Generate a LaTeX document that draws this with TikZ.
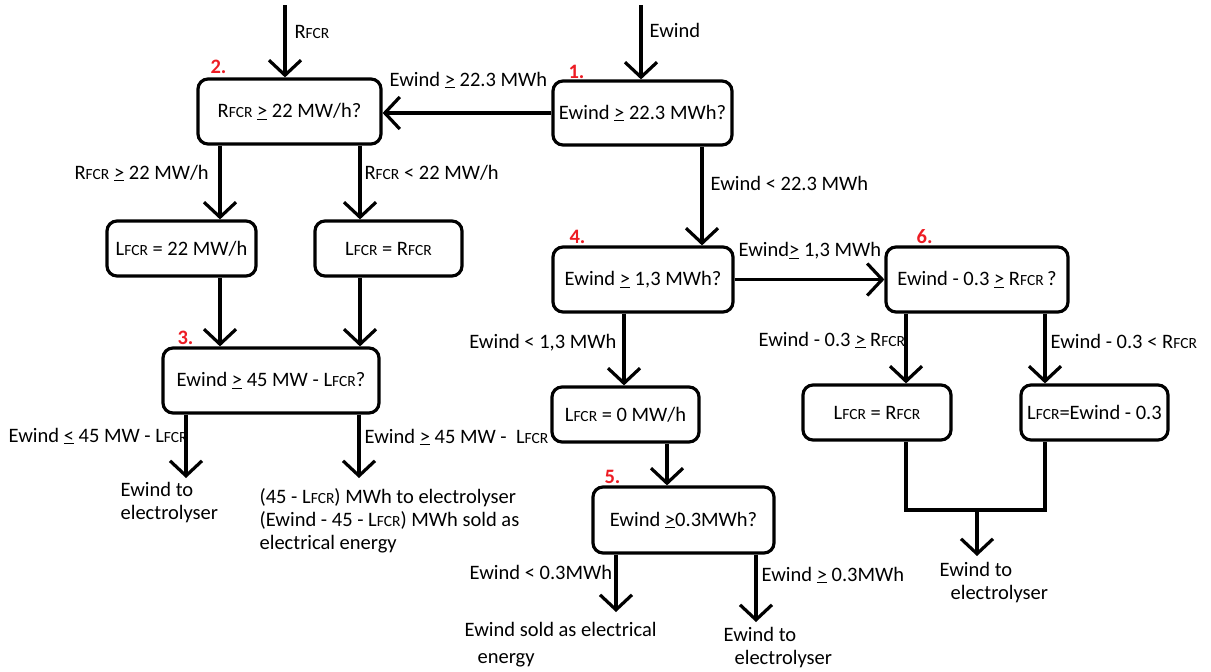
\documentclass[tikz,border=0pt]{standalone}
\usepackage{fontspec}
\setmainfont{Carlito}
\usetikzlibrary{arrows.meta}
\definecolor{numred}{RGB}{237,28,36}
\newcommand\sfcr{{\fontsize{15.5}{15.5}\selectfont FCR}}
\newcommand\RF{R\sfcr}
\newcommand\LF{L\sfcr}
\newcommand\gequ{\underline{>}}
\newcommand\lequ{\underline{<}}
\begin{document}
\begin{tikzpicture}[x=1pt,y=-1pt,line width=3.2pt,
  box/.style={draw,rounded corners=10pt,align=center,inner sep=0pt,font=\fontsize{20.5}{24}\selectfont},
  lbl/.style={anchor=west,inner sep=0pt,font=\fontsize{20.5}{24}\selectfont},
  endtxt/.style={anchor=west,inner sep=0pt,align=left,font=\fontsize{20.5}{23}\selectfont},
  num/.style={anchor=west,inner sep=0pt,text=numred,font=\bfseries\fontsize{20.5}{24}\selectfont},
  arr/.style={-{Straight Barb[length=15pt,width=32pt]}}]
\useasboundingbox (0,0) rectangle (1211,672);

% boxes
\node[box,minimum width=183pt,minimum height=65pt] (b2) at (289.5,111.5) {\RF{} \gequ{} 22 MW/h?};
\node[box,minimum width=179pt,minimum height=64pt] (b1) at (642.5,113) {Ewind \gequ{} 22.3 MWh?};
\node[box,minimum width=149pt,minimum height=55pt] (b2a) at (181.5,248.5) {\LF{} = 22 MW/h};
\node[box,minimum width=147pt,minimum height=55pt] (b2b) at (388.5,248.5) {\LF{} = \RF};
\node[box,minimum width=216pt,minimum height=65pt] (b3) at (271,380.5) {Ewind \gequ{} 45 MW - \LF?};
\node[box,minimum width=180pt,minimum height=65pt] (b4) at (643,279.5) {Ewind \gequ{} 1,3 MWh?};
\node[box,minimum width=182pt,minimum height=65pt] (b6) at (977,279.5) {Ewind - 0.3 \gequ{} \RF\,?};
\node[box,minimum width=147pt,minimum height=55pt] (b4a) at (625.5,414.5) {\LF{} = 0 MW/h};
\node[box,minimum width=181pt,minimum height=66pt] (b5) at (683.5,520) {Ewind \gequ 0.3MWh?};
\node[box,minimum width=148pt,minimum height=55pt] (b6a) at (877,412.5) {\LF{} = \RF};
\node[box,minimum width=147pt,minimum height=55pt] (b6b) at (1094.5,412.5) {\LF{}=Ewind - 0.3};

% step numbers
\node[num] (n1) at (567,72) {1.};
\node[num] (n2) at (209,67) {2.};
\node[num] (n3) at (176,338) {3.};
\node[num] (n4) at (568,237) {4.};
\node[num] (n5) at (603,477) {5.};
\node[num] (n6) at (915,237) {6.};

% helper coordinates
\coordinate (t2) at (285,5);
\coordinate (t1) at (641,5);
\coordinate (xa) at (220,0);
\coordinate (xb) at (360,0);
\coordinate (x702) at (702,0);
\coordinate (x624) at (624,0);
\coordinate (x667) at (667,0);
\coordinate (x906) at (906,0);
\coordinate (x1045) at (1045,0);
\coordinate (e3a) at (186,478);
\coordinate (e3b) at (359,478);
\coordinate (e5a) at (616,612);
\coordinate (e5b) at (756,622);
\coordinate (m) at (977,510);
\coordinate (e6) at (977,556);

% connectors
\draw[arr] (t2) -- (t2 |- b2.north);
\draw[arr] (t1) -- (t1 |- b1.north);
\draw[arr] (b1.west) -- (b1.west -| b2.east);
\draw[arr] (b2.south -| xa) -- (b2a.north -| xa);
\draw[arr] (b2.south -| xb) -- (b2b.north -| xb);
\draw[arr] (b2a.south -| xa) -- (b3.north -| xa);
\draw[arr] (b2b.south -| xb) -- (b3.north -| xb);
\draw[arr] (b3.south -| e3a) -- (e3a);
\draw[arr] (b3.south -| e3b) -- (e3b);
\draw[arr] (b1.south -| x702) -- (b4.north -| x702);
\draw[arr] (b4.east) -- (b4.east -| b6.west);
\draw[arr] (b4.south -| x624) -- (b4a.north -| x624);
\draw[arr] (b4a.south -| x667) -- (b5.north -| x667);
\draw[arr] (b5.south -| e5a) -- (e5a);
\draw[arr] (b5.south -| e5b) -- (e5b);
\draw[arr] (b6.south -| x906) -- (b6a.north -| x906);
\draw[arr] (b6.south -| x1045) -- (b6b.north -| x1045);
\draw (b6a.south -| x906) -- (x906 |- m) -- (x1045 |- m) -- (b6b.south -| x1045);
\draw[arr] (m) -- (e6);

% labels
\node[lbl] (l1) at (293,32) {\RF};
\node[lbl] (l2) at (648,30) {Ewind};
\node[lbl] (l3) at (388,80) {Ewind \gequ{} 22.3 MWh};
\node[lbl] (l4) at (73,173) {\RF{} \gequ{} 22 MW/h};
\node[lbl] (l5) at (363,173) {\RF{} < 22 MW/h};
\node[lbl] (l6) at (709,183) {Ewind < 22.3 MWh};
\node[lbl] (l7) at (737,251) {Ewind\gequ{} 1,3 MWh};
\node[lbl,anchor=east] (l8) at (618,343) {Ewind < 1,3 MWh};
\node[lbl] (l9) at (757,340) {Ewind - 0.3 \gequ{} \RF};
\node[lbl] (l10) at (1049,341) {Ewind - 0.3 < \RF};
\node[lbl] (l11) at (7,436) {Ewind \lequ{} 45 MW - \LF};
\node[lbl] (l12) at (363,437) {Ewind \gequ{} 45 MW -\ \ \LF};
\node[lbl] (l13) at (468,572) {Ewind < 0.3MWh};
\node[lbl] (l14) at (760,575) {Ewind \gequ{} 0.3MWh};

% end texts
\node[endtxt] (o1) at (119,502.5) {Ewind to\\electrolyser};
\node[endtxt] (o2) at (258,521) {(45 - \LF) MWh to electrolyser\\(Ewind - 45 - \LF) MWh sold as\\electrical energy};
\node[endtxt,font=\fontsize{20.5}{27}\selectfont] (o3) at (463,644.5) {Ewind sold as electrical\\\hspace*{13pt}energy};
\node[endtxt] (o4) at (722,648) {Ewind to\\\hspace*{11pt}electrolyser};
\node[endtxt] (o5) at (938,582.5) {Ewind to\\\hspace*{11pt}electrolyser};
\end{tikzpicture}
\end{document}
